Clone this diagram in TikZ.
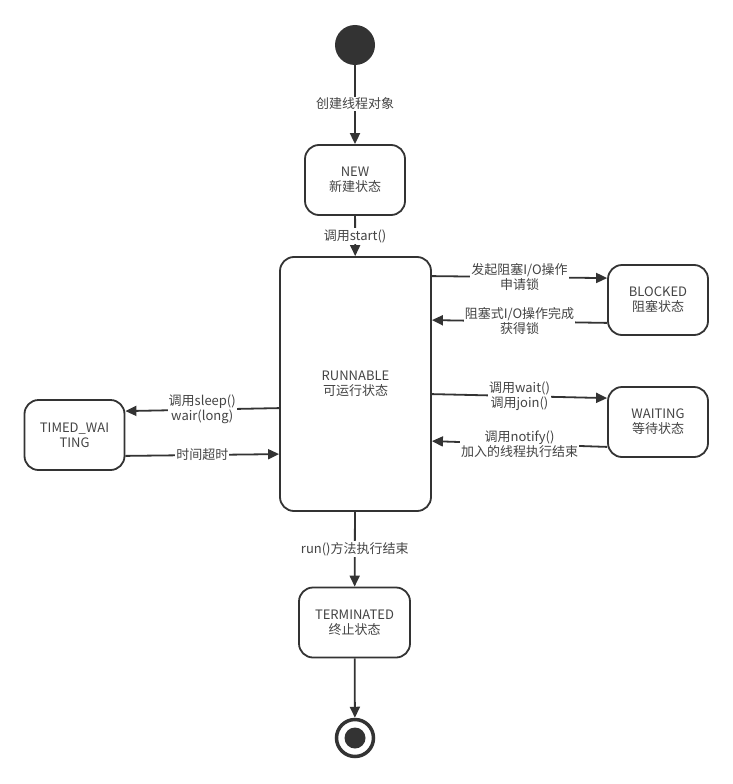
\documentclass[tikz,border=0pt]{standalone}
\usepackage{fontspec}
\setmainfont{Noto Sans CJK SC}
\usetikzlibrary{arrows.meta}
\definecolor{ink}{HTML}{333333}
\definecolor{txt}{HTML}{444444}
\tikzset{
  state/.style={draw=ink, line width=1.8pt, rounded corners=14pt, fill=white,
    align=center, text=txt, font=\fontsize{13}{15}\selectfont, inner sep=0pt},
  conn/.style={draw=ink, line width=1.8pt, -{Triangle[length=11pt,width=10pt]}},
  lbl/.style={fill=white, text=txt, align=center, inner sep=1pt,
    font=\fontsize{13}{15}\selectfont},
}
\begin{document}
\begin{tikzpicture}[x=1pt,y=-1pt]
\useasboundingbox[fill=white] (0,0) rectangle (733,784);
% initial
\node[circle, fill=ink, minimum size=40pt, inner sep=0pt] (init) at (355,45) {};
% states
\node[state, minimum width=100pt, minimum height=70pt] (new) at (355,180) {NEW\\新建状态};
\node[state, minimum width=151pt, minimum height=254pt] (run) at (355.5,384) {RUNNABLE\\可运行状态};
\node[state, minimum width=100pt, minimum height=70pt] (blk) at (658,300) {BLOCKED\\阻塞状态};
\node[state, minimum width=100pt, minimum height=70pt] (wait) at (658,422) {WAITING\\等待状态};
\node[state, minimum width=100pt, minimum height=70pt] (tw) at (74.5,435) {TIMED\_WAI\\TING};
\node[state, minimum width=111pt, minimum height=70pt] (term) at (354.5,622.5) {TERMINATED\\终止状态};
% final
\node[circle, draw=ink, line width=3.5pt, minimum size=37pt, inner sep=0pt] (fin) at (355,738) {};
\node[circle, fill=ink, minimum size=21pt, inner sep=0pt] (fincore) at (355,738) {};

% connectors
\draw[conn] (init) -- node[lbl, pos=0.49]{创建线程对象} (new);
\draw[conn] (new) -- node[lbl, pos=0.5]{调用start()} (run);
\draw[conn] ([yshift=-20pt]run.north east) -- node[lbl, pos=0.5]{发起阻塞I/O操作\\申请锁} ([yshift=-14pt]blk.north west);
\draw[conn] ([yshift=13pt]blk.south west) -- node[lbl, pos=0.5]{阻塞式I/O操作完成\\获得锁} ([yshift=-64pt]run.north east);
\draw[conn] ([yshift=-138pt]run.north east) -- node[lbl, pos=0.5]{调用wait()\\调用join()} ([yshift=-12pt]wait.north west);
\draw[conn] ([yshift=11pt]wait.south west) -- node[lbl, pos=0.5]{调用notify()\\加入的线程执行结束} ([yshift=-185pt]run.north east);
\draw[conn] ([yshift=-152pt]run.north west) -- node[lbl, pos=0.5]{调用sleep()\\wair(long)} ([yshift=-12pt]tw.north east);
\draw[conn] ([yshift=15pt]tw.south east) -- node[lbl, pos=0.5]{时间超时} ([yshift=-198pt]run.north west);
\draw[conn] (run) -- node[lbl, pos=0.5]{run()方法执行结束} (term);
\draw[conn] (term) -- (fin);
\end{tikzpicture}
\end{document}
